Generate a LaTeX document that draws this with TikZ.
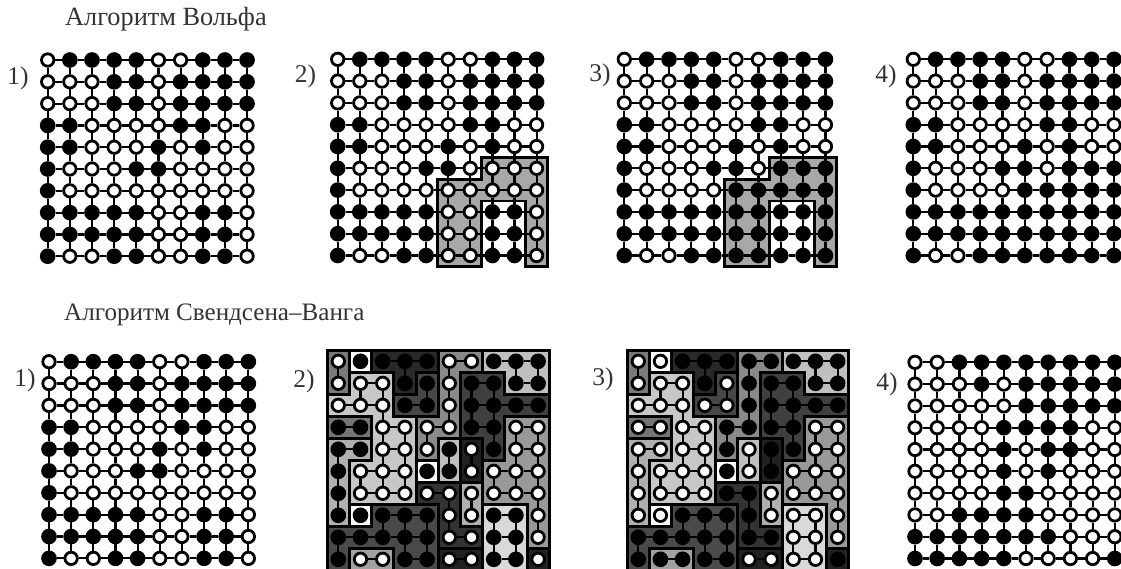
\documentclass[tikz,border=0pt]{standalone}
\usepackage{fontspec}
\usepackage{xcolor}
\setmainfont{Liberation Serif}
\usetikzlibrary{positioning}
\definecolor{captiongray}{HTML}{333333}
\definecolor{clustergray}{HTML}{A8A8A8}

% lattice states, one brace group per row
\newcommand{\stateA}{{0,1,1,1,1,0,0,1,1,1},{0,0,0,1,1,0,1,1,1,1},{0,0,0,1,1,0,1,1,1,1},{1,1,0,0,0,0,1,1,0,0},{1,1,0,0,0,1,0,1,0,0},{1,0,0,0,1,1,0,0,0,0},{1,0,0,0,0,0,0,0,0,0},{1,1,1,1,1,0,0,1,1,0},{1,1,1,1,1,0,0,1,1,0},{1,0,0,1,1,0,0,1,1,0}}
\newcommand{\stateB}{{0,1,1,1,1,0,0,1,1,1},{0,0,0,1,1,0,1,1,1,1},{0,0,0,1,1,0,1,1,1,1},{1,1,0,0,0,0,1,1,0,0},{1,1,0,0,0,1,0,1,0,0},{1,0,0,0,1,1,0,1,1,1},{1,0,0,0,0,1,1,1,1,1},{1,1,1,1,1,1,1,1,1,1},{1,1,1,1,1,1,1,1,1,1},{1,0,0,1,1,1,1,1,1,1}}
\newcommand{\stateC}{{0,0,1,1,1,1,1,1,1,1},{0,0,0,1,0,1,1,1,1,1},{0,0,0,0,0,1,1,1,1,1},{0,0,0,0,1,1,1,1,0,0},{0,0,0,0,1,0,1,1,0,0},{0,0,0,0,1,0,1,0,0,0},{0,0,0,0,1,1,0,0,0,0},{0,0,1,1,1,1,0,0,0,0},{1,1,1,1,1,1,1,0,0,0},{1,1,1,1,1,0,0,0,0,1}}

% spins of a panel
\newcommand{\spingrid}[2]{
    \foreach \rowlist [count=\row from 0] in #2 {
        \foreach \s [count=\col from 0] in \rowlist {
            \node[style=spin\s] (#1-\col-\row) at (\col,\row) {};
        }
    }
}
% every bond of a panel
\newcommand{\fullbonds}[1]{
    \foreach \u in {0,...,9} {
        \foreach \v [evaluate=\v as \w using int(\v+1)] in {0,...,8} {
            \draw[bond] (#1-\u-\v) -- (#1-\u-\w);
            \draw[bond] (#1-\v-\u) -- (#1-\w-\u);
        }
    }
}
% bonds kept by the Swendsen-Wang step
\newcommand{\keptbonds}[1]{
    \foreach \a/\b in {0-0/0-1, 2-0/3-0, 3-0/4-0, 3-0/3-1, 4-1/4-2, 3-2/4-2,
        1-1/2-1, 1-1/1-2, 2-1/2-2, 0-2/1-2, 1-2/2-2, 2-2/2-3, 2-3/3-3, 2-3/2-4, 3-3/3-4, 2-4/3-4,
        2-4/2-5, 3-4/3-5, 1-5/2-5, 2-5/3-5, 1-5/1-6, 2-5/2-6, 3-5/3-6, 1-6/2-6, 2-6/3-6,
        5-0/6-0, 5-0/5-1, 5-1/5-2, 5-2/5-3, 4-3/5-3, 4-3/4-4,
        7-0/8-0, 8-0/9-0, 8-0/8-1, 9-0/9-1, 8-1/9-1,
        6-1/7-1, 6-1/6-2, 7-1/7-2, 6-2/7-2, 7-2/8-2, 8-2/9-2, 6-2/6-3, 7-2/7-3, 6-3/7-3, 7-3/7-4,
        0-3/1-3, 0-4/1-4, 0-4/0-5, 0-5/0-6, 0-6/0-7, 5-4/5-5, 6-4/6-5,
        8-3/9-3, 8-3/8-4, 9-3/9-4, 8-4/9-4, 8-4/8-5, 9-4/9-5, 7-5/8-5, 8-5/9-5, 7-5/7-6, 8-5/8-6,
        9-5/9-6, 7-6/8-6, 8-6/9-6, 9-6/9-7, 9-7/9-8,
        4-6/5-6, 5-6/5-7, 5-7/5-8, 5-8/6-8, 6-6/6-7,
        2-7/3-7, 3-7/4-7, 2-7/2-8, 3-7/3-8, 4-7/4-8, 0-8/1-8, 1-8/2-8, 2-8/3-8, 3-8/4-8,
        0-8/0-9, 3-8/3-9, 4-8/4-9, 3-9/4-9, 1-9/2-9,
        7-7/8-7, 7-7/7-8, 8-7/8-8, 7-8/8-8, 7-8/7-9, 8-8/8-9, 7-9/8-9, 5-9/6-9} {
        \draw[bond] (#1-\a) -- (#1-\b);
    }
}
% regions of the Swendsen-Wang clusters
\newcommand{\clusterregions}{
    \begin{scope}[shift={(-0.5,-0.5)}]
        \draw[region=52] (0,0) -- (1,0) -- (1,2) -- (0,2) -- cycle;
        \draw[region=0] (1,0) rectangle (2,1);
        \draw[region=84] (2,0) -- (5,0) -- (5,1) -- (4,1) -- (4,2) -- (3,2) -- (3,1) -- (2,1) -- cycle;
        \draw[region=72] (4,1) -- (5,1) -- (5,3) -- (3,3) -- (3,2) -- (4,2) -- cycle;
        \draw[region=22] (1,1) -- (3,1) -- (3,3) -- (4,3) -- (4,7) -- (1,7) -- (1,5) -- (2,5) -- (2,3) -- (0,3) -- (0,2) -- (1,2) -- cycle;
        \draw[region=46] (5,0) -- (7,0) -- (7,1) -- (6,1) -- (6,4) -- (5,4) -- (5,5) -- (4,5) -- (4,3) -- (5,3) -- cycle;
        \draw[region=25] (7,0) -- (10,0) -- (10,2) -- (8,2) -- (8,1) -- (7,1) -- cycle;
        \draw[region=75] (6,1) -- (8,1) -- (8,2) -- (10,2) -- (10,3) -- (8,3) -- (8,5) -- (7,5) -- (7,4) -- (6,4) -- cycle;
        \draw[region=54] (0,3) rectangle (2,4);
        \draw[region=31] (0,4) -- (2,4) -- (2,5) -- (1,5) -- (1,8) -- (0,8) -- cycle;
        \draw[region=25] (5,4) rectangle (6,6);
        \draw[region=87] (6,4) rectangle (7,6);
        \draw[region=0] (4,5) rectangle (5,6);
        \draw[region=40] (8,3) -- (10,3) -- (10,9) -- (9,9) -- (9,7) -- (7,7) -- (7,5) -- (8,5) -- cycle;
        \draw[region=80] (4,6) -- (6,6) -- (6,8) -- (7,8) -- (7,9) -- (5,9) -- (5,7) -- (4,7) -- cycle;
        \draw[region=31] (6,6) rectangle (7,8);
        \draw[region=0] (1,7) rectangle (2,8);
        \draw[region=71] (2,7) -- (5,7) -- (5,10) -- (3,10) -- (3,9) -- (1,9) -- (1,10) -- (0,10) -- (0,8) -- (2,8) -- cycle;
        \draw[region=37] (1,9) rectangle (3,10);
        \draw[region=15] (7,7) rectangle (9,10);
        \draw[region=87] (5,9) rectangle (7,10);
        \draw[region=87] (9,9) rectangle (10,10);
    \end{scope}
}
% region of the Wolff cluster
\newcommand{\wolffregion}{
    \draw[wolff] (6.5,4.5) -- (9.5,4.5) -- (9.5,9.5) -- (8.5,9.5) -- (8.5,6.5) -- (6.5,6.5) -- (6.5,9.5) -- (4.5,9.5) -- (4.5,5.5) -- (6.5,5.5) -- cycle;
}

\begin{document}
\begin{tikzpicture}[
    x=1pt, y=-1pt,
    spin0/.style={circle, draw=black, fill=white, line width=2.8pt, minimum size=12.4pt, inner sep=0pt},
    spin1/.style={circle, draw=black, fill=black, line width=2.8pt, minimum size=12.8pt, inner sep=0pt},
    bond/.style={line width=2.2pt, draw=black},
    wolff/.style={draw=black, fill=clustergray, line width=2.8pt, line join=miter},
    region/.style={draw=black, fill=black!#1, line width=3pt, line join=miter},
    caption/.style={font=\fontsize{26.3}{30}\selectfont, text=captiongray, inner sep=0pt, anchor=base west},
    number/.style={font=\fontsize{25.5}{30}\selectfont, text=captiongray, inner sep=0pt},
]
    \useasboundingbox (0,0) rectangle (1121,568);
    \clip (0,0) rectangle (1121,568);

    % Captions
    \node[caption] (wolffcap) at (65,25) {Алгоритм Вольфа};
    \node[caption, font=\fontsize{25.1}{30}\selectfont] (swcap) at (64,320) {Алгоритм Свендсена–Ванга};

    % Numbers
    \node[number] (wn1) at (18,78) {1)};
    \node[number] (wn2) at (305.5,76) {2)};
    \node[number] (wn3) at (600,75) {3)};
    \node[number] (wn4) at (886,76) {4)};
    \node[number] (sn1) at (25,380) {1)};
    \node[number] (sn2) at (304,381) {2)};
    \node[number] (sn3) at (603,379) {3)};
    \node[number] (sn4) at (887,384) {4)};

    % Wolff panels
    \begin{scope}[shift={(47.7,60)}, x=22.15pt, y=-21.8pt]
        \spingrid{wa}{\stateA}
        \fullbonds{wa}
    \end{scope}
    \begin{scope}[shift={(337.7,59.3)}, x=22.1pt, y=-21.8pt]
        \wolffregion
        \spingrid{wb}{\stateA}
        \fullbonds{wb}
    \end{scope}
    \begin{scope}[shift={(624.3,59.3)}, x=22.35pt, y=-21.8pt]
        \wolffregion
        \spingrid{wc}{\stateB}
        \fullbonds{wc}
    \end{scope}
    \begin{scope}[shift={(913.3,59.3)}, x=22.3pt, y=-21.8pt]
        \spingrid{wd}{\stateB}
        \fullbonds{wd}
    \end{scope}

    % Swendsen-Wang panels
    \begin{scope}[shift={(49,361.7)}, x=22.15pt, y=-21.85pt]
        \spingrid{sa}{\stateA}
        \fullbonds{sa}
    \end{scope}
    \begin{scope}[shift={(338.3,361.3)}, x=22.2pt, y=-22pt]
        \clusterregions
        \spingrid{sb}{\stateA}
        \keptbonds{sb}
    \end{scope}
    \begin{scope}[shift={(638.3,361.3)}, x=22.15pt, y=-22pt]
        \clusterregions
        \spingrid{sc}{\stateC}
        \keptbonds{sc}
    \end{scope}
    \begin{scope}[shift={(915,362.3)}, x=22.2pt, y=-21.8pt]
        \spingrid{sd}{\stateC}
        \fullbonds{sd}
    \end{scope}
\end{tikzpicture}
\end{document}
